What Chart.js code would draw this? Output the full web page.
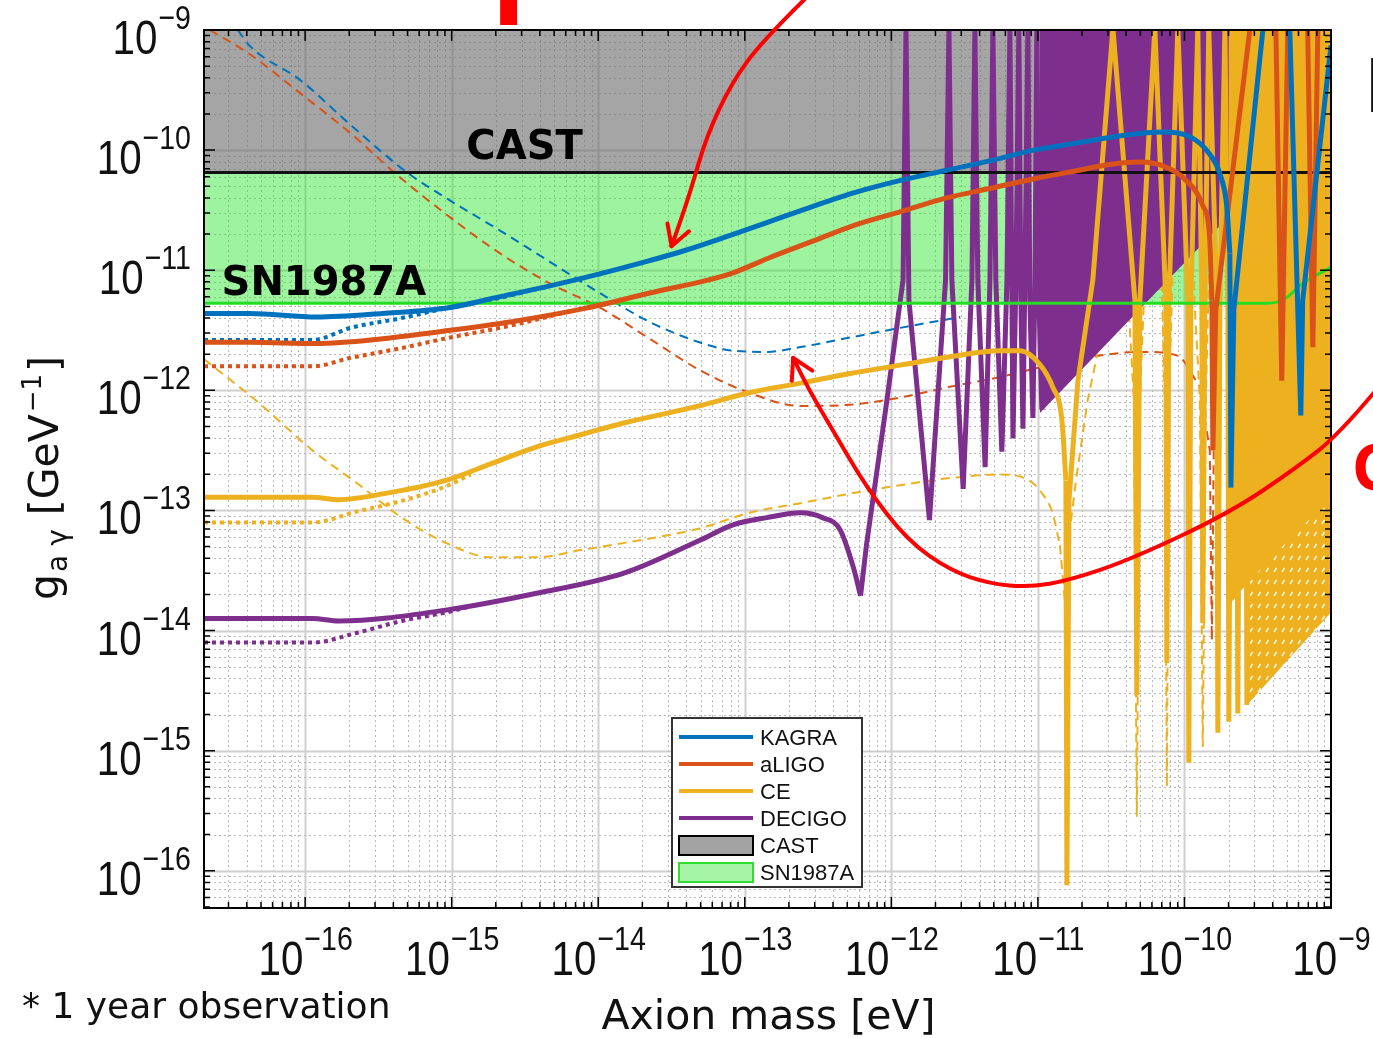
<!DOCTYPE html>
<html>
<head>
<meta charset="utf-8">
<script src="https://cdn.jsdelivr.net/npm/chart.js@4.4.1/dist/chart.umd.min.js"></script>
<style>
  html, body { margin: 0; padding: 0; background: #fff; }
  canvas { display: block; }
</style>
</head>
<body>
<canvas id="chart" width="1373" height="1038"></canvas>
<script>
// every value is a power of ten: [log10(mass / eV), log10(g_ay / GeV^-1)]
// (-8.99 / -8.8 mark a curve leaving the top of the plot)
const xRange = [-16.69, -9];
const yRange = [-16.31, -9];
const xTickExps = [-16, -15, -14, -13, -12, -11, -10, -9];
const yTickExps = [-16, -15, -14, -13, -12, -11, -10, -9];
const legendLabels = ['KAGRA', 'aLIGO', 'CE', 'DECIGO', 'CAST', 'SN1987A'];

const castLimit = [[-16.69, -10.186], [-9, -10.186]];
const snLimit = [[-16.69, -11.275], [-9.452, -11.275], [-9.329, -11.25], [-9.193, -11.11], [-9, -10.976]];

const kagraSolid = [
  [-16.69, -11.36], [-16.38, -11.36], [-15.92, -11.39], [-15.47, -11.36], [-15.01, -11.31], [-14.67, -11.22],
  [-14.33, -11.13], [-13.99, -11.03], [-13.65, -10.92], [-13.42, -10.84], [-13.10, -10.71], [-12.84, -10.60],
  [-12.54, -10.47], [-12.24, -10.35], [-11.93, -10.25], [-11.63, -10.17], [-11.33, -10.09], [-11.03, -10.00],
  [-10.73, -9.94], [-10.43, -9.88], [-10.15, -9.85], [-9.96, -9.89], [-9.83, -10.03], [-9.76, -10.19],
  [-9.71, -10.48], [-9.69, -10.86], [-9.683, -12.81], [-9.663, -11.33], [-9.465, -9.0], [-9.376, -8.8],
  [-9.281, -9.0], [-9.206, -12.21], [-9.193, -11.25], [-9.0, -9.13]
];
const aligoSolid = [
  [-16.69, -11.60], [-16.38, -11.60], [-15.92, -11.61], [-15.47, -11.57], [-15.01, -11.50], [-14.55, -11.42],
  [-14.10, -11.32], [-13.65, -11.19], [-13.10, -11.03], [-12.84, -10.90], [-12.54, -10.76], [-12.24, -10.62],
  [-11.93, -10.51], [-11.63, -10.40], [-11.33, -10.32], [-11.03, -10.24], [-10.73, -10.17], [-10.51, -10.12],
  [-10.30, -10.10], [-10.13, -10.14], [-10.00, -10.24], [-9.875, -10.46], [-9.827, -10.75], [-9.813, -11.25],
  [-9.806, -12.50], [-9.786, -11.33], [-9.554, -9.0], [-9.465, -8.8], [-9.376, -9.0], [-9.336, -11.92],
  [-9.295, -9.0], [-9.227, -8.8], [-9.159, -9.0], [-9.124, -11.64], [-9.090, -9.0], [-9.0, -8.8]
];
const ceSolid = [
  [-16.69, -12.89], [-15.95, -12.89], [-15.77, -12.91], [-15.46, -12.86], [-15.04, -12.75], [-14.73, -12.61],
  [-14.42, -12.47], [-14.12, -12.37], [-13.82, -12.27], [-13.31, -12.13], [-12.97, -12.02], [-12.62, -11.94],
  [-12.28, -11.86], [-11.94, -11.79], [-11.60, -11.72], [-11.26, -11.67], [-11.12, -11.67], [-10.99, -11.78],
  [-10.90, -11.97], [-10.836, -12.25], [-10.809, -12.75], [-10.802, -16.12], [-10.788, -12.92], [-10.727, -11.92],
  [-10.625, -11.08], [-10.488, -8.99], [-10.338, -11.25], [-10.325, -14.54], [-10.304, -11.25], [-10.202, -8.99],
  [-10.127, -11.25], [-10.120, -14.27], [-10.106, -11.25], [-10.045, -8.99], [-9.977, -11.25], [-9.970, -15.10],
  [-9.956, -11.25], [-9.909, -8.99], [-9.881, -11.25], [-9.875, -13.94], [-9.861, -11.25], [-9.834, -8.99],
  [-9.779, -11.25], [-9.772, -14.85], [-9.758, -11.25], [-9.724, -8.99], [-9.704, -11.25], [-9.697, -14.76],
  [-9.683, -11.25], [-9.663, -8.99], [-9.643, -11.25], [-9.636, -14.69], [-9.622, -11.25], [-9.601, -8.99],
  [-9.581, -11.25], [-9.574, -14.62], [-9.561, -11.25], [-9.540, -8.99]
];
const decigoSolid = [
  [-16.69, -13.90], [-15.95, -13.90], [-15.77, -13.92], [-15.04, -13.83], [-14.42, -13.69], [-13.82, -13.52],
  [-13.31, -13.25], [-13.08, -13.12], [-12.85, -13.06], [-12.62, -13.02], [-12.47, -13.06], [-12.35, -13.16],
  [-12.26, -13.47], [-12.21, -13.71], [-12.17, -13.29], [-12.04, -12.17], [-11.92, -11.08], [-11.90, -8.99],
  [-11.88, -11.25], [-11.74, -13.08], [-11.63, -11.08], [-11.607, -8.99], [-11.587, -11.08], [-11.51, -12.82],
  [-11.45, -11.08], [-11.43, -8.99], [-11.41, -11.08], [-11.36, -12.64], [-11.327, -11.08], [-11.307, -8.99],
  [-11.287, -11.08], [-11.246, -12.51], [-11.211, -11.08], [-11.191, -8.99], [-11.177, -11.25], [-11.170, -12.40],
  [-11.150, -11.08], [-11.130, -8.99], [-11.116, -11.25], [-11.102, -12.32], [-11.089, -11.08], [-11.068, -8.99],
  [-11.055, -11.25], [-11.034, -12.23], [-11.020, -11.08], [-11.007, -8.99], [-10.993, -11.25], [-10.973, -12.16],
  [-10.959, -11.25], [-10.945, -8.99]
];

const kagraDashed = [
  [-16.46, -9.0], [-16.38, -9.13], [-16.03, -9.42], [-15.69, -9.79], [-15.30, -10.19], [-15.01, -10.42],
  [-14.67, -10.67], [-14.33, -10.93], [-13.99, -11.19], [-13.65, -11.43], [-13.31, -11.60], [-13.08, -11.67],
  [-12.85, -11.68], [-12.62, -11.64], [-12.28, -11.56], [-11.94, -11.48], [-11.53, -11.39]
];
const aligoDashed = [
  [-16.65, -9.0], [-16.38, -9.20], [-16.03, -9.53], [-15.69, -9.86], [-15.35, -10.23], [-15.01, -10.56],
  [-14.67, -10.86], [-14.33, -11.11], [-13.99, -11.31], [-13.65, -11.57], [-13.31, -11.83], [-12.97, -12.02],
  [-12.62, -12.13], [-12.28, -12.12], [-11.94, -12.06], [-11.60, -11.97], [-11.26, -11.89], [-10.92, -11.79],
  [-10.58, -11.71], [-10.30, -11.68], [-10.05, -11.71], [-9.895, -11.97], [-9.827, -12.50], [-9.813, -14.08],
  [-9.800, -12.50], [-9.69, -8.99]
];
const ceDashed = [
  [-16.69, -11.74], [-16.31, -12.11], [-15.95, -12.50], [-15.65, -12.77], [-15.34, -13.06], [-15.04, -13.27],
  [-14.73, -13.39], [-14.42, -13.39], [-14.12, -13.33], [-13.82, -13.27], [-13.31, -13.15], [-12.97, -13.02],
  [-12.62, -12.94], [-12.28, -12.86], [-11.94, -12.79], [-11.60, -12.73], [-11.26, -12.70], [-11.06, -12.75],
  [-10.97, -12.86], [-10.90, -13.02], [-10.85, -13.29], [-10.816, -13.75], [-10.795, -13.29], [-10.74, -12.75],
  [-10.66, -12.08], [-10.60, -11.73], [-10.488, -8.99], [-10.345, -12.08], [-10.325, -15.55], [-10.304, -12.08],
  [-10.202, -8.99], [-10.134, -12.08], [-10.120, -15.30], [-10.106, -12.08], [-10.031, -8.99], [-9.895, -12.08],
  [-9.875, -14.97], [-9.854, -12.08], [-9.793, -8.99]
];

const kagraDotted = [[-16.69, -11.58], [-15.95, -11.58], [-15.69, -11.48], [-15.35, -11.40], [-15.01, -11.31], [-14.87, -11.28], [-14.67, -11.23], [-14.33, -11.13]];
const aligoDotted = [[-16.69, -11.80], [-15.95, -11.80], [-15.69, -11.73], [-15.35, -11.65], [-15.01, -11.56], [-14.67, -11.48], [-14.45, -11.42], [-14.19, -11.34]];
const ceDotted = [[-16.69, -13.10], [-15.95, -13.10], [-15.65, -13.01], [-15.34, -12.92], [-15.04, -12.80], [-14.87, -12.70]];
const decigoDotted = [[-16.69, -14.10], [-15.95, -14.10], [-15.65, -14.02], [-15.34, -13.92], [-15.04, -13.85], [-14.81, -13.78]];

// lower edges of the densely oscillating parts, filled up to the top
const decigoBand = [[-10.986, -12.19], [-9.0, -9.67]];
const ceBand = [[-9.70, -13.80], [-9.622, -13.68], [-9.0, -12.89]];
const ceHatch = [[-9.574, -14.62], [-9.0, -13.85]];

// where each curve stops being smooth and starts to oscillate (index into its array)
const oscStart = { kagra: 25, aligo: 23, ce: 20, decigo: 13, aligoDashed: 21, ceDashed: 20 };

// annotations, same units
const regionLabels = [{ text: 'CAST', at: [-14.90, -10.07] }, { text: 'SN1987A', at: [-16.57, -11.21] }];
const arrowA = [[-12.58, -8.73], [-12.88, -9.09], [-13.09, -9.44], [-13.26, -9.88], [-13.37, -10.34], [-13.45, -10.63], [-13.50, -10.80]];
const arrowB = [[-8.68, -11.98], [-8.94, -12.36], [-9.23, -12.64], [-9.69, -13.02], [-10.37, -13.41], [-10.78, -13.58],
  [-11.06, -13.64], [-11.33, -13.61], [-11.60, -13.50], [-11.89, -13.25], [-12.17, -12.81], [-12.40, -12.33],
  [-12.56, -12.00], [-12.67, -11.73]];

const BLUE = '#0072BD', ORANGE = '#D95319', YELLOW = '#EDB120', PURPLE = '#7E2F8E';
const LIB = "'Liberation Sans', Arial, sans-serif";
const SANS = "'DejaVu Sans', Verdana, sans-serif";

const pts = arr => arr.map(([m, g]) => ({ x: Math.pow(10, m), y: Math.pow(10, g) }));

function line(data, color, width, dash, order, sharp) {
  return {
    data: pts(data), borderColor: color, borderWidth: width, borderDash: dash, fill: false, order, clip: 0,
    cubicInterpolationMode: sharp ? 'default' : 'monotone'
  };
}
function area(data, bg, fill, order) {
  return { data: pts(data), borderWidth: 0, borderColor: 'rgba(0,0,0,0)', backgroundColor: bg, fill, order, clip: 0 };
}
// smooth part with monotone splines, oscillating tail with straight segments
function curve(data, cut, color, width, dash, order) {
  return [
    line(data.slice(0, cut + 1), color, width, dash, order, false),
    line(data.slice(cut), color, width, dash, order, true)
  ];
}

function hatch() {
  const c = document.createElement('canvas');
  c.width = 8; c.height = 12;
  const g = c.getContext('2d');
  g.fillStyle = YELLOW;
  g.fillRect(0, 0, 8, 12);
  g.strokeStyle = 'rgba(255,255,255,0.85)';
  g.lineWidth = 1.5;
  g.beginPath(); g.moveTo(2, 8); g.lineTo(4.5, 4); g.stroke();
  return g.createPattern(c, 'repeat');
}

const datasets = [
  area(castLimit, 'rgba(110,110,110,0.62)', 'end', 100),
  area(snLimit, 'rgba(40,230,40,0.45)', { value: Math.pow(10, castLimit[0][1]) }, 99),
  line(kagraDashed, BLUE, 2, [9, 6], 90),
  ...curve(aligoDashed, oscStart.aligoDashed, ORANGE, 2, [9, 6], 89),
  ...curve(ceDashed, oscStart.ceDashed, YELLOW, 2, [9, 6], 88),
  line(kagraDotted, BLUE, 4, [4, 4], 80),
  line(aligoDotted, ORANGE, 4, [4, 4], 79),
  line(ceDotted, YELLOW, 4, [4, 4], 78),
  line(decigoDotted, PURPLE, 4, [4, 4], 77),
  area(decigoBand, PURPLE, 'end', 70),
  ...curve(decigoSolid, oscStart.decigo, PURPLE, 5, [], 69),
  area(ceHatch, hatch(), 'end', 60),
  area(ceBand, YELLOW, 'end', 59),
  ...curve(ceSolid, oscStart.ce, YELLOW, 5, [], 58),
  line(castLimit, '#111', 3, [], 50, true),
  line(snLimit, '#22dd22', 3, [], 49),
  ...curve(aligoSolid, oscStart.aligo, ORANGE, 5, [], 40),
  ...curve(kagraSolid, oscStart.kagra, BLUE, 5, [], 39)
];

// "10" with a raised exponent, squeezed like the condensed face of the original
function drawPower(ctx, exp, x, base, align) {
  const sq = 0.84;
  const sup = '\u2212' + Math.abs(exp);
  ctx.font = '48px ' + LIB;
  const w1 = ctx.measureText('10').width * sq;
  ctx.font = '34px ' + LIB;
  const w2 = ctx.measureText(sup).width * sq;
  const left = align === 'center' ? x - (w1 + w2) / 2 : x - (w1 + w2);
  ctx.save();
  ctx.translate(left, base);
  ctx.scale(sq, 1);
  ctx.font = '48px ' + LIB;
  ctx.fillText('10', 0, 0);
  ctx.font = '34px ' + LIB;
  ctx.fillText(sup, (w1 + 1) / sq, -25);
  ctx.restore();
}

function drawArrow(ctx, p) {
  ctx.beginPath();
  ctx.moveTo(p[0][0], p[0][1]);
  for (let i = 1; i < p.length - 1; i++) {
    ctx.quadraticCurveTo(p[i][0], p[i][1], (p[i][0] + p[i + 1][0]) / 2, (p[i][1] + p[i + 1][1]) / 2);
  }
  const tip = p[p.length - 1], prev = p[p.length - 2];
  ctx.lineTo(tip[0], tip[1]);
  ctx.stroke();
  const a = Math.atan2(prev[1] - tip[1], prev[0] - tip[0]);
  ctx.beginPath();
  for (const s of [-1, 1]) {
    ctx.moveTo(tip[0], tip[1]);
    ctx.lineTo(tip[0] + 23 * Math.cos(a + s * 0.52), tip[1] + 23 * Math.sin(a + s * 0.52));
  }
  ctx.stroke();
}

const frame = {
  id: 'frame',
  beforeDatasetsDraw(chart) {
    const { ctx, chartArea: a, scales: { x, y } } = chart;
    ctx.save();
    for (let d = -17; d <= -9; d++) {
      for (let m = 1; m <= 9; m++) {
        const v = m * Math.pow(10, d);
        const major = m === 1;
        ctx.strokeStyle = major ? '#cfcfcf' : '#b9b9b9';
        ctx.lineWidth = major ? 2 : 1;
        ctx.setLineDash(major ? [] : [2, 3]);
        const px = Math.round(x.getPixelForValue(v)) + 0.5;
        if (px > a.left + 1 && px < a.right - 1) {
          ctx.beginPath(); ctx.moveTo(px, a.top); ctx.lineTo(px, a.bottom); ctx.stroke();
        }
        const py = Math.round(y.getPixelForValue(v)) + 0.5;
        if (py > a.top + 1 && py < a.bottom - 1) {
          ctx.beginPath(); ctx.moveTo(a.left, py); ctx.lineTo(a.right, py); ctx.stroke();
        }
      }
    }
    ctx.restore();
  },
  afterDatasetsDraw(chart) {
    const { ctx, chartArea: a, scales: { x, y } } = chart;
    const px = m => x.getPixelForValue(Math.pow(10, m));
    const py = g => y.getPixelForValue(Math.pow(10, g));
    ctx.save();

    // ticks on all four sides, then the box
    ctx.strokeStyle = '#000';
    ctx.lineWidth = 1.5;
    for (let d = -17; d <= -9; d++) {
      for (let m = 1; m <= 9; m++) {
        const v = m * Math.pow(10, d);
        const len = m === 1 ? 11 : 6;
        const tx = x.getPixelForValue(v);
        if (tx >= a.left && tx <= a.right) {
          ctx.beginPath();
          ctx.moveTo(tx, a.bottom); ctx.lineTo(tx, a.bottom - len);
          ctx.moveTo(tx, a.top); ctx.lineTo(tx, a.top + len);
          ctx.stroke();
        }
        const ty = y.getPixelForValue(v);
        if (ty >= a.top && ty <= a.bottom) {
          ctx.beginPath();
          ctx.moveTo(a.left, ty); ctx.lineTo(a.left + len, ty);
          ctx.moveTo(a.right, ty); ctx.lineTo(a.right - len, ty);
          ctx.stroke();
        }
      }
    }
    ctx.lineWidth = 2;
    ctx.strokeRect(a.left, a.top, a.right - a.left, a.bottom - a.top);

    // region names
    ctx.fillStyle = '#000';
    ctx.font = 'bold 40px ' + SANS;
    ctx.textBaseline = 'alphabetic';
    ctx.textAlign = 'left';
    for (const r of regionLabels) ctx.fillText(r.text, px(r.at[0]), py(r.at[1]));

    // tick labels
    ctx.fillStyle = '#111';
    for (const e of xTickExps) drawPower(ctx, e, x.getPixelForValue(Math.pow(10, e)), a.bottom + 67, 'center');
    for (const e of yTickExps) {
      const ty = y.getPixelForValue(Math.pow(10, e));
      drawPower(ctx, e, a.left - 14, ty + 24, 'right');
    }

    // axis titles and note
    ctx.fillStyle = '#111';
    ctx.font = '41px ' + SANS;
    ctx.textAlign = 'center';
    ctx.fillText('Axion mass [eV]', (a.left + a.right) / 2 + 1, 1029);
    ctx.textAlign = 'left';
    ctx.font = '36px ' + SANS;
    ctx.fillText('* 1 year observation', 22, 1018);

    ctx.save();
    ctx.translate(58, 600);
    ctx.rotate(-Math.PI / 2);
    let u = 0;
    ctx.font = '41px ' + SANS;
    ctx.fillText('g', u, 0); u += ctx.measureText('g').width + 2;
    ctx.font = '28px ' + SANS;
    ctx.fillText('a', u, 9); u += ctx.measureText('a').width + 9;
    ctx.fillText('\u03b3', u, 9); u += ctx.measureText('\u03b3').width + 14;
    ctx.font = '41px ' + SANS;
    ctx.fillText('[GeV', u, 0); u += ctx.measureText('[GeV').width + 2;
    ctx.font = '26px ' + SANS;
    ctx.fillText('\u22121', u, -17); u += ctx.measureText('\u22121').width + 2;
    ctx.font = '41px ' + SANS;
    ctx.fillText(']', u, 0);
    ctx.restore();

    // legend
    const lx = 672, ly = 718, rowH = 27;
    ctx.fillStyle = '#fff';
    ctx.fillRect(lx, ly, 190, 169);
    ctx.strokeStyle = '#333';
    ctx.lineWidth = 2;
    ctx.strokeRect(lx, ly, 190, 169);
    const swatch = [BLUE, ORANGE, YELLOW, PURPLE];
    ctx.font = '22px ' + LIB;
    legendLabels.forEach((label, i) => {
      const ry = ly + 19 + i * rowH;
      if (i < 4) {
        ctx.strokeStyle = swatch[i];
        ctx.lineWidth = 4;
        ctx.beginPath(); ctx.moveTo(lx + 7, ry); ctx.lineTo(lx + 81, ry); ctx.stroke();
      } else {
        ctx.fillStyle = i === 4 ? '#a3a3a3' : '#a6f5a6';
        ctx.strokeStyle = i === 4 ? '#000' : '#2fdc2f';
        ctx.lineWidth = 2;
        ctx.fillRect(lx + 7, ry - 9, 74, 19);
        ctx.strokeRect(lx + 7, ry - 9, 74, 19);
      }
      ctx.fillStyle = '#111';
      ctx.fillText(label, lx + 88, ry + 8);
    });

    // red hand-drawn arrows
    ctx.strokeStyle = '#ff0000';
    ctx.lineWidth = 4;
    ctx.lineCap = 'round';
    ctx.lineJoin = 'round';
    drawArrow(ctx, arrowA.map(([m, g]) => [px(m), py(g)]));
    drawArrow(ctx, arrowB.map(([m, g]) => [px(m), py(g)]));

    // clipped text from the slide around the figure
    ctx.fillStyle = '#ff0000';
    ctx.font = "bold 112px 'Noto Sans', sans-serif";
    ctx.fillText('p', 492, -2);
    ctx.font = "bold 64px 'Noto Sans', sans-serif";
    ctx.fillText('C', 1352, 490);
    ctx.fillStyle = '#111';
    ctx.font = '60px ' + SANS;
    ctx.fillText('[', 1366, 104);

    ctx.restore();
  }
};

new Chart(document.getElementById('chart'), {
  type: 'line',
  data: { datasets },
  options: {
    responsive: false,
    animation: false,
    layout: { padding: { top: 30, right: 42, left: 0, bottom: 0 } },
    elements: {
      point: { radius: 0, hoverRadius: 0 },
      line: { tension: 0, cubicInterpolationMode: 'monotone', borderCapStyle: 'butt' }
    },
    plugins: { legend: { display: false }, tooltip: { enabled: false } },
    events: [],
    scales: {
      x: {
        type: 'logarithmic',
        min: Math.pow(10, xRange[0]),
        max: Math.pow(10, xRange[1]),
        grid: { display: false },
        border: { display: false },
        ticks: { display: false },
        afterFit: s => { s.height = 130; }
      },
      y: {
        type: 'logarithmic',
        min: Math.pow(10, yRange[0]),
        max: Math.pow(10, yRange[1]),
        grid: { display: false },
        border: { display: false },
        ticks: { display: false },
        afterFit: s => { s.width = 204; }
      }
    }
  },
  plugins: [frame]
});
</script>
</body>
</html>
